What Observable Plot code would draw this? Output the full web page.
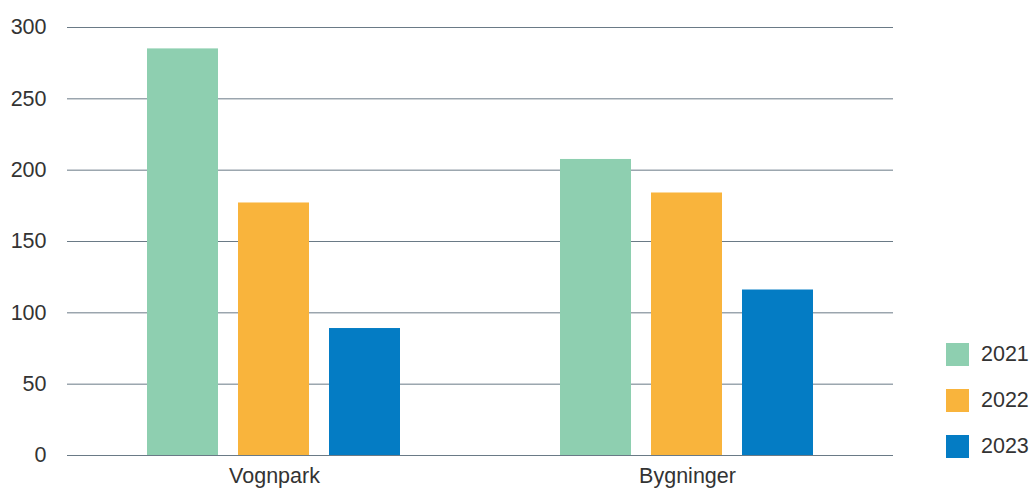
<!DOCTYPE html>
<html>
<head>
<meta charset="utf-8">
<script src="https://cdn.jsdelivr.net/npm/d3@7"></script>
<script src="https://cdn.jsdelivr.net/npm/@observablehq/plot@0.6"></script>
<style>
  html, body { margin: 0; padding: 0; background: #fff; }
  #wrap { position: relative; width: 1032px; height: 491px; font-family: "Liberation Sans", Arial, sans-serif; }
  #wrap svg { position: absolute; left: 0; top: 0; }
  #legend { position: absolute; left: 946px; top: 343px; }
  .item { display: flex; align-items: center; height: 23px; margin-bottom: 23px; font-size: 21.5px; color: #333; }
  .sw { width: 23px; height: 23px; margin-right: 12px; flex: none; }
</style>
</head>
<body>
<div id="wrap"><div id="legend"></div></div>
<script>
const categories = ["Vognpark", "Bygninger"];
const years = ["2021", "2022", "2023"];
const vognpark = [285, 177, 89];
const bygninger = [207.5, 184, 116];
const colors = ["#8ecfb0", "#f9b43c", "#047cc4"];
const yTicks = [0, 50, 100, 150, 200, 250, 300];

const series = [vognpark, bygninger];
const data = [];
categories.forEach((c, i) => years.forEach((y, j) => data.push({category: c, year: y, value: series[i][j]})));

const common = {
  width: 1032,
  height: 491,
  marginLeft: 67,
  marginRight: 139,
  marginTop: 27,
  marginBottom: 36,
  style: {fontFamily: "'Liberation Sans', Arial, sans-serif", fontSize: "21.5px", color: "#333", background: "transparent", overflow: "visible"}
};

// Background layer: y axis and full-width grid lines
const back = Plot.plot({
  ...common,
  x: {axis: null},
  y: {domain: [0, 300], ticks: yTicks, tickSize: 0, tickPadding: 21, label: null},
  marks: [
    Plot.ruleY(yTicks, {stroke: "#6a7a86", strokeWidth: 1})
  ]
});

// Foreground layer: grouped bars
const front = Plot.plot({
  ...common,
  fx: {domain: categories, paddingInner: 0.284, paddingOuter: 0.141, label: null, tickSize: 0, tickPadding: 12},
  x: {domain: years, padding: 0.2174, axis: null},
  y: {domain: [0, 300], axis: null},
  color: {domain: years, range: colors},
  facet: {data: data, x: "category"},
  marks: [
    Plot.barY(data, {x: "year", y: "value", fill: "year"})
  ]
});

const wrap = document.getElementById("wrap");
wrap.prepend(front);
wrap.prepend(back);

const legend = document.getElementById("legend");
years.forEach((y, i) => {
  const d = document.createElement("div");
  d.className = "item";
  d.innerHTML = `<span class="sw" style="background:${colors[i]}"></span><span>${y}</span>`;
  legend.appendChild(d);
});
</script>
</body>
</html>
